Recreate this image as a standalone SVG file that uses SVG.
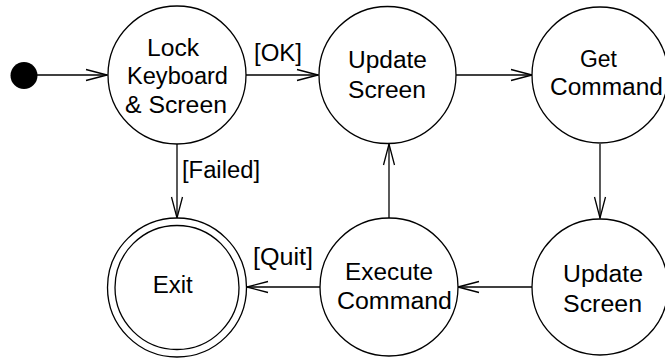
<svg xmlns="http://www.w3.org/2000/svg" width="665" height="360" viewBox="0 0 665 360">
<style>
.st{fill:#fff;stroke:#000;stroke-width:1.3}
.t{font-family:"Liberation Sans",Arial,sans-serif;font-size:23px;fill:#000;text-anchor:middle}
.c{fill:none;stroke:#000;stroke-width:1.3;marker-end:url(#ah)}
</style>
<defs>
<marker id="ah" markerUnits="userSpaceOnUse" markerWidth="24" markerHeight="14" viewBox="-22 -7 24 14" refX="0" refY="0" orient="auto">
<path d="M-21,-5.5 L0,0 L-21,5.5" fill="none" stroke="#000" stroke-width="1.3"/>
</marker>
</defs>
<rect width="665" height="360" fill="#fff"/>
<g id="connectors">
<line class="c" x1="37" y1="75" x2="107" y2="75"/>
<line class="c" x1="246" y1="75" x2="318" y2="75"/>
<line class="c" x1="456" y1="75" x2="532" y2="75"/>
<line class="c" x1="600" y1="144" x2="600" y2="218"/>
<line class="c" x1="532" y1="287" x2="458" y2="287"/>
<line class="c" x1="389" y1="218" x2="389" y2="144"/>
<line class="c" x1="320" y1="287" x2="247" y2="287"/>
<line class="c" x1="177" y1="144" x2="177" y2="218"/>
<text class="t" x="278" y="61" textLength="48" lengthAdjust="spacingAndGlyphs">[OK]</text>
<text class="t" x="221" y="178" textLength="78" lengthAdjust="spacingAndGlyphs">[Failed]</text>
<text class="t" x="283" y="265" textLength="60" lengthAdjust="spacingAndGlyphs">[Quit]</text>
</g>
<g id="start">
<circle cx="24" cy="75.5" r="13.5" fill="#000"/>
</g>
<g id="lock">
<circle class="st" cx="177" cy="75" r="69"/>
<text class="t" x="173" y="55.5" textLength="52" lengthAdjust="spacingAndGlyphs">Lock</text>
<text class="t" x="177.5" y="84" textLength="101" lengthAdjust="spacingAndGlyphs">Keyboard</text>
<text class="t" x="176" y="112.5" textLength="102" lengthAdjust="spacingAndGlyphs">&amp; Screen</text>
</g>
<g id="update1">
<circle class="st" cx="387.5" cy="75" r="68.5"/>
<text class="t" x="387.5" y="68" textLength="79" lengthAdjust="spacingAndGlyphs">Update</text>
<text class="t" x="387" y="97.5" textLength="78" lengthAdjust="spacingAndGlyphs">Screen</text>
</g>
<g id="getcommand">
<circle class="st" cx="600" cy="75" r="68"/>
<text class="t" x="598.5" y="67" textLength="37" lengthAdjust="spacingAndGlyphs">Get</text>
<text class="t" x="606.5" y="95" textLength="113" lengthAdjust="spacingAndGlyphs">Command</text>
</g>
<g id="update2">
<circle class="st" cx="600" cy="287" r="68"/>
<text class="t" x="603" y="282" textLength="80" lengthAdjust="spacingAndGlyphs">Update</text>
<text class="t" x="602.5" y="312" textLength="79" lengthAdjust="spacingAndGlyphs">Screen</text>
</g>
<g id="execute">
<circle class="st" cx="389" cy="287" r="69"/>
<text class="t" x="389" y="279.5" textLength="88" lengthAdjust="spacingAndGlyphs">Execute</text>
<text class="t" x="394.5" y="308.5" textLength="115" lengthAdjust="spacingAndGlyphs">Command</text>
</g>
<g id="exit">
<circle class="st" cx="177" cy="287.5" r="69.5"/>
<circle class="st" cx="177" cy="287.5" r="62"/>
<text class="t" x="172.7" y="293" textLength="40" lengthAdjust="spacingAndGlyphs">Exit</text>
</g>
</svg>
